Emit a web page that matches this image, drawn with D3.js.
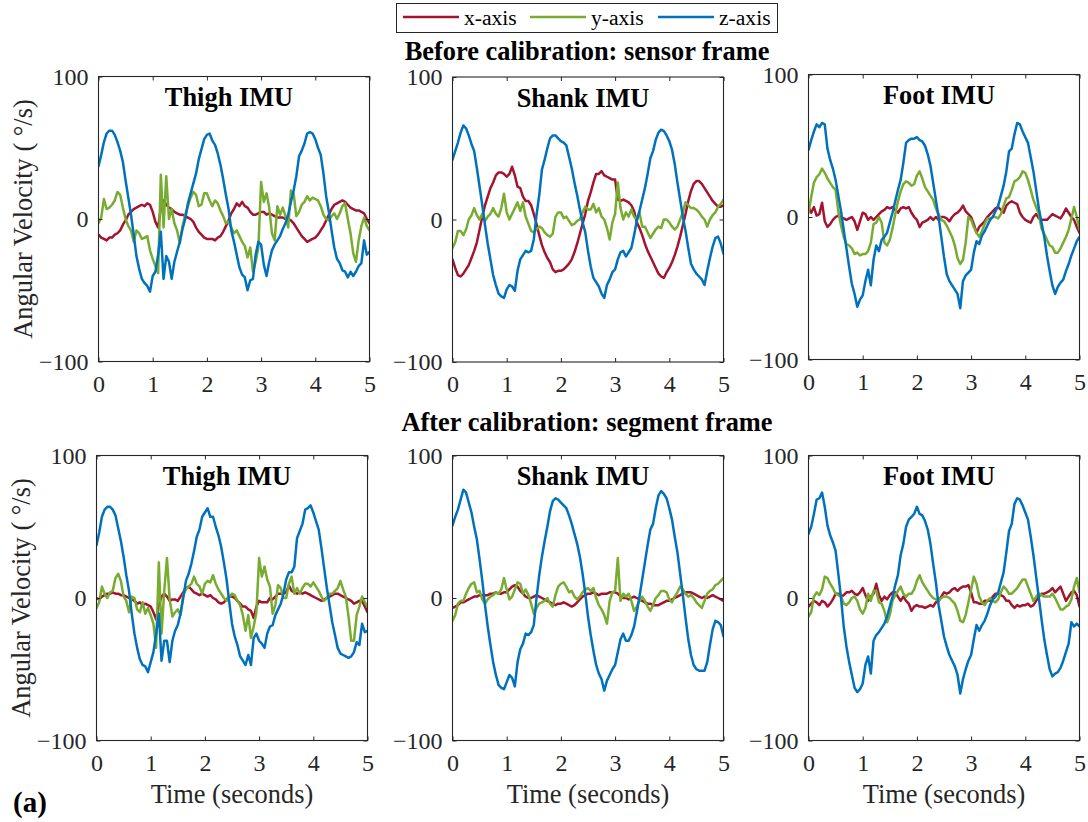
<!DOCTYPE html>
<html><head><meta charset="utf-8">
<script src="https://cdn.jsdelivr.net/npm/d3@7"></script>
<style>
body{margin:0;background:#fff}
svg{display:block}
text{font-family:"Liberation Serif","Times New Roman",serif}
</style>
</head><body><svg id="c" width="1088" height="822"></svg>
<script>
// ---------------- data ----------------
const sampleStep = 0.05; // seconds between samples
const xTicks = [0,1,2,3,4,5];
const yTicks = [-100,0,100];
const seriesNames = ["x-axis","y-axis","z-axis"];
const seriesColors = ["#A2142F","#77AC30","#0072BD"];
const panelTitles = ["Thigh IMU","Shank IMU","Foot IMU"];
const rowTitles = ["Before calibration: sensor frame","After calibration: segment frame"];
const yLabel = "Angular Velocity ( \u00B0/s)";
const xLabel = "Time (seconds)";
const figTag = "(a)";

const thighBeforeX = [-11,-13,-14,-15,-13,-13,-11,-10,-8,-4, -1,3,5,7,8,9,10,9,11,10, 5,-2,-6,8,13,10,8,7,5,4, 3,3,2,1,0,-2,-6,-9,-11,-13, -14,-14,-14,-15,-13,-12,-9,-5,-1,4, 7,11,9,12,9,8,5,3,3,4, 5,5,3,4,3,2,1,1,1,0, 0,-1,-3,-6,-9,-12,-14,-16,-15,-14, -13,-11,-8,-5,-1,3,7,10,11,12, 13,12,10,8,7,6,6,5,4,0, -3];
const thighBeforeY = [-3,1,14,7,8,10,13,19,17,8, 0,-5,-8,-16,-8,-10,-14,-13,-12,-22, -28,-33,-38,31,-6,30,0,7,-3,-8, -17,-5,3,9,15,19,17,9,10,18, 18,13,9,13,11,6,2,-3,-2,-6, -10,-8,-12,-16,-19,-27,-20,-37,-30,-20, 26,12,18,8,-10,-15,9,3,8,2, -6,20,18,2,5,10,12,16,13,15, 14,13,9,3,0,-1,2,4,0,4, 9,11,0,-10,-24,-30,-15,-5,1,-5, -8];
const thighBeforeZ = [37,45,54,60,62,62,59,54,48,40, 27,15,3,-11,-26,-35,-42,-45,-47,-51, -40,-37,-25,-9,-42,-26,-30,-42,-30,-23, -16,-7,0,11,18,25,32,42,49,56, 59,60,55,52,46,38,28,17,7,-8, -16,-25,-34,-39,-41,-50,-43,-42,-25,-16, -18,-32,-40,-30,-22,-18,-15,-12,-7,-3, 3,12,20,30,44,48,53,60,61,60, 56,50,45,32,16,5,-8,-20,-28,-31, -36,-37,-41,-37,-40,-37,-33,-31,-15,-25, -23];

const shankBeforeX = [-28,-34,-39,-40,-38,-35,-32,-27,-22,-16, -7,2,10,16,22,26,31,33,33,32, 30,32,37,31,23,22,16,13,13,10, 4,-3,-11,-18,-23,-27,-30,-35,-37,-36, -36,-35,-33,-31,-28,-23,-17,-10,-3,4, 13,19,26,32,32,34,31,30,29,28, 28,14,13,14,13,12,10,6,-2,-6, -11,-17,-22,-26,-30,-34,-38,-40,-41,-37, -34,-30,-25,-19,-12,-4,4,13,20,25, 27,27,25,22,19,16,13,11,9,9, 10];
const shankBeforeY = [-20,-16,-8,-8,-11,-7,0,3,8,3, 0,4,-1,2,4,8,4,2,8,18, 5,0,4,8,12,6,12,2,-3,-8, -9,-7,-5,-6,-9,-11,-12,-10,2,5, 5,1,2,-1,-4,-3,-1,0,5,9, 7,7,11,5,8,2,0,-6,-14,-2, 4,26,8,0,5,2,7,2,0,5, -5,-5,-9,-13,-10,-7,-5,-6,0,0, -2,-5,-7,-5,0,5,12,10,8,8, 7,5,2,0,-5,0,3,5,9,11, 14];
const shankBeforeZ = [42,48,54,61,66,64,59,53,48,36, 23,10,-4,-17,-28,-39,-46,-52,-54,-55, -49,-46,-47,-50,-36,-28,-25,-22,-23,-22, -14,3,17,35,42,50,57,59,59,57, 55,54,52,44,36,26,17,7,-2,-9, -22,-33,-41,-44,-47,-52,-55,-46,-42,-37, -35,-28,-23,-22,-26,-23,-20,-11,-1,6, 14,22,32,43,48,56,61,63,62,59, 55,49,39,26,14,2,-8,-20,-31,-35, -38,-40,-42,-46,-36,-27,-19,-13,-12,-17, -24];

const footBeforeX = [7,3,7,1,2,10,-3,-7,-5,-2, 0,1,0,-1,-2,-1,0,-3,-9,-3, 3,2,-2,0,-2,0,2,4,5,7, 6,7,5,3,6,7,6,7,3,0, -2,-7,-4,-3,-2,0,-2,0,-2,0, 0,-1,-3,0,2,3,5,8,4,2, 0,-5,-11,-7,-5,-3,0,2,4,6, 7,5,3,8,10,11,10,9,3,0, -2,-3,-4,0,2,-1,-2,-2,-2,0, 2,1,0,-1,2,6,3,0,-2,-7, -11];
const footBeforeY = [3,14,24,28,30,34,31,27,24,21, 19,4,-6,-14,-19,-20,-22,-26,-25,-27, -26,-26,-24,-18,-5,-4,0,-4,-18,-20, -16,-8,2,11,18,23,25,24,22,23, 29,32,27,21,18,15,12,6,2,-2, -3,-6,-10,-14,-20,-29,-33,-30,-18,0, -2,-7,-11,-14,-10,-5,-1,-1,0,0, -1,2,8,13,14,19,25,26,28,32, 31,26,19,12,7,2,-8,-12,-16,-20, -21,-25,-25,-22,-18,-14,-9,-1,7,0, -9];
const footBeforeZ = [47,54,60,65,63,66,65,48,40,34, 26,15,4,-9,-22,-35,-47,-54,-63,-58, -55,-45,-37,-48,-30,-20,-24,-16,-14,-11, -4,3,11,19,26,38,52,54,55,55, 56,54,53,50,44,36,24,12,0,-14, -28,-40,-45,-48,-51,-54,-64,-45,-41,-39, -37,-25,-17,-19,-13,-10,-6,-2,0,4, 8,15,22,32,46,48,58,66,65,60, 56,52,42,32,19,6,-4,-14,-27,-38, -48,-54,-49,-46,-44,-38,-33,-27,-22,-17, -14];

const thighAfterX = [0,-1,1,2,3,3,4,3,3,2, 2,1,0,-1,-2,-4,-3,-5,-4,-5, -6,-10,-15,-5,1,3,1,-2,-1,-1, -2,1,4,7,8,6,4,3,2,3, 2,1,2,0,-1,-3,-4,-3,-1,1, 1,0,-2,-4,-6,-6,-8,-9,-14,-6, -2,-3,-3,-3,0,-1,1,3,3,3, 4,9,5,4,3,4,3,4,3,2, 1,0,-1,-2,-1,0,1,2,3,3, 2,1,0,-1,-2,-4,-3,-2,-2,-6, -10];
const thighAfterY = [-7,-3,8,3,0,4,5,14,17,12, 1,-2,-10,1,0,-8,-10,-3,-11,-7, -12,-18,-35,25,-25,5,28,-1,-13,-10, -8,-12,2,6,8,10,15,10,8,3, 10,12,11,16,10,6,3,0,-2,1, 3,2,-2,-5,-12,-23,-12,-28,-20,-10, 28,15,22,13,8,-11,-5,9,7,0, 0,10,15,3,7,3,7,10,10,8, 11,8,5,1,-2,0,3,3,5,7, 12,6,1,-13,-30,-30,-12,-6,1,-3, -6];
const thighAfterZ = [37,46,57,62,64,64,62,58,49,40, 29,16,5,-11,-25,-35,-43,-47,-48,-52, -45,-38,-25,-11,-44,-30,-30,-45,-30,-23, -19,-11,0,12,17,24,33,43,48,57, 60,63,57,57,50,44,36,25,13,-3, -18,-27,-33,-41,-44,-47,-40,-47,-28,-25, -30,-32,-35,-25,-20,-19,-12,-8,-4,3, 13,18,18,22,42,47,52,62,63,65, 60,54,48,35,21,7,-5,-17,-26,-35, -39,-40,-41,-42,-41,-38,-31,-33,-18,-24, -23];

const shankAfterX = [-7,-6,-5,-3,-3,-2,-1,0,1,1, 2,2,2,2,3,3,4,3,3,4, 4,6,8,9,8,5,3,1,0,0, 1,2,1,0,-1,-2,-3,-4,-5,-4, -4,-3,-4,-5,-6,-5,-3,-1,1,2, 3,3,4,3,2,3,3,3,4,4, 4,3,1,0,0,-1,0,1,0,-1, -2,-3,-4,-4,-5,-5,-5,-4,-3,-2, -2,-1,0,1,2,3,4,4,4,3, 2,1,0,1,0,1,2,1,0,-1, -2];
const shankAfterY = [-16,-12,-4,-2,-2,3,7,10,11,4, 5,-1,-4,-1,1,2,4,3,6,14, 6,-1,1,6,11,10,3,6,2,-4, -11,-7,-4,-3,-2,0,-4,-6,2,8, 10,11,8,4,5,1,-1,1,4,6, 7,5,7,0,-5,-8,-12,-18,-2,4, 5,28,-2,3,1,3,-2,-9,-6,-2, 1,-2,-6,-9,-5,0,2,5,5,4, -1,-3,1,4,8,6,3,1,2,0, -3,-5,-7,-2,3,5,6,9,10,12, 14];
const shankAfterZ = [51,57,62,69,76,74,67,60,50,41, 27,12,-5,-20,-33,-45,-54,-61,-63,-64, -59,-54,-56,-62,-45,-36,-32,-25,-26,-24, -19,0,16,29,40,50,61,68,70,69, 67,65,63,58,52,45,38,29,17,3, -13,-26,-37,-47,-53,-57,-65,-58,-54,-50, -47,-38,-29,-25,-30,-30,-26,-20,-10,1, 13,25,37,48,52,63,72,75,73,70, 63,55,43,32,17,2,-14,-29,-40,-47, -50,-51,-51,-51,-45,-33,-22,-16,-17,-19, -27];

const footAfterX = [-6,-4,-2,-3,-5,-2,-3,-6,-4,-1, 3,3,1,2,4,4,5,3,2,4, 7,2,-2,1,3,10,2,-2,1,-1, 2,4,4,1,-2,1,-2,-4,-9,-6, -5,-6,-6,-7,-6,-5,-6,-3,-2,1, 4,3,4,6,7,5,7,8,8,9, 4,-3,-3,-4,-4,-2,-2,-2,1,3, 3,2,1,-2,-2,-5,-7,-5,-6,-5, -5,-4,-6,-5,-2,1,3,3,4,5, 7,4,6,8,3,-2,1,4,5,2, -6];
const footAfterY = [-13,-10,1,4,2,6,15,14,10,7, 3,2,1,-4,-5,-3,0,1,-2,-8, -11,-7,3,-2,5,5,-3,-4,-9,-17, -12,-2,2,5,8,3,1,3,3,6, 12,16,11,8,5,2,0,-1,-2,0, 1,1,0,-2,-4,-9,-16,-17,-12,-3, 6,15,10,1,-3,-5,-2,0,-2,-3, -1,4,8,6,3,3,5,7,10,13, 13,8,3,-2,1,3,2,1,1,1, 3,0,-4,-8,-8,-6,-5,-1,8,14, 4];
const footAfterZ = [45,50,59,69,70,74,64,51,44,39, 33,17,0,-20,-34,-45,-54,-63,-66,-64, -60,-47,-41,-53,-30,-26,-24,-21,-18,-13, -6,1,9,16,30,38,50,55,57,59, 64,59,58,54,48,38,24,11,-5,-16, -27,-34,-40,-44,-48,-54,-67,-57,-50,-44, -40,-29,-19,-23,-19,-16,-11,-5,-1,1, 4,11,18,32,47,52,66,70,69,65, 60,55,43,30,15,0,-15,-29,-40,-50, -55,-53,-52,-49,-44,-38,-32,-17,-20,-18, -20];

const panelData = [
  [[thighBeforeX,thighBeforeY,thighBeforeZ],[shankBeforeX,shankBeforeY,shankBeforeZ],[footBeforeX,footBeforeY,footBeforeZ]],
  [[thighAfterX,thighAfterY,thighAfterZ],[shankAfterX,shankAfterY,shankAfterZ],[footAfterX,footAfterY,footAfterZ]]
];

// ---------------- layout ----------------
const W = 1088, H = 822;
const FONT = '"Liberation Serif","Times New Roman",serif';
const panelLeft = [[98.5,452.5,808.5],[96.5,452.5,808.5]];
const panelTop = [[76.5,77,74.5],[455.5,455.5,455.5]];
const panelW = 271, panelH = 285;
const axisColor = "#262626";
const tickFont = 24, labelFont = 26.4;
const lineW = 2.5;

const svg = d3.select("#c").attr("font-family",FONT);
svg.append("rect").attr("width",W).attr("height",H).attr("fill","#fff");

// legend
const lg = svg.append("g");
lg.append("rect").attr("x",396.5).attr("y",3.5).attr("width",381).attr("height",29)
  .attr("fill","#fff").attr("stroke",axisColor).attr("stroke-width",1);
const legendX = [403, 530, 658];
seriesNames.forEach((n,i)=>{
  lg.append("line").attr("x1",legendX[i]).attr("x2",legendX[i]+56).attr("y1",17).attr("y2",17)
    .attr("stroke",seriesColors[i]).attr("stroke-width",lineW);
  lg.append("text").attr("x",legendX[i]+61).attr("y",25).attr("font-size",21.6)
    .attr("font-family",FONT).attr("fill","#000").text(n);
});

// row titles
const rowTitleY = [59.5, 431];
rowTitles.forEach((t,r)=>{
  svg.append("text").attr("x",587).attr("y",rowTitleY[r]).attr("text-anchor","middle")
    .attr("font-family",FONT).attr("font-size",labelFont).attr("font-weight","bold").attr("fill","#000").text(t);
});

const x = d3.scaleLinear().domain([0,5]);
const y = d3.scaleLinear().domain([-100,100]);

for (let r=0;r<2;r++){
  for (let c=0;c<3;c++){
    const L = panelLeft[r][c], T = panelTop[r][c];
    const xs = x.copy().range([0,panelW]);
    const ys = y.copy().range([panelH,0]);
    const g = svg.append("g").attr("transform",`translate(${L},${T})`);
    const clipId = `clip${r}${c}`;
    g.append("clipPath").attr("id",clipId).append("rect")
      .attr("x",0).attr("y",0).attr("width",panelW).attr("height",panelH);

    const line = d3.line().x((d,i)=>xs(i*sampleStep)).y(d=>ys(d));
    const lines = g.append("g").attr("clip-path",`url(#${clipId})`);
    panelData[r][c].forEach((arr,k)=>{
      lines.append("path").datum(arr).attr("d",line).attr("fill","none")
        .attr("stroke",seriesColors[k]).attr("stroke-width",lineW)
        .attr("stroke-linejoin","round").attr("stroke-linecap","round");
    });

    const ax = d3.axisBottom(xs).tickValues(xTicks).tickSize(-4).tickPadding(13).tickFormat(d3.format("d"));
    const gx = g.append("g").attr("transform",`translate(0,${panelH})`).call(ax);
    const axT = d3.axisTop(xs).tickValues(xTicks).tickSize(-4).tickFormat("");
    const gxt = g.append("g").call(axT);
    const ay = d3.axisLeft(ys).tickValues(yTicks).tickSize(-4).tickPadding(10).tickFormat(d3.format("d"));
    const gy = g.append("g").call(ay);
    const ayR = d3.axisRight(ys).tickValues(yTicks).tickSize(-4).tickFormat("");
    const gyr = g.append("g").attr("transform",`translate(${panelW},0)`).call(ayR);
    [gx,gxt,gy,gyr].forEach(a=>{
      a.attr("font-family",FONT).attr("font-size",tickFont);
      a.select(".domain").remove();
      a.selectAll("line").attr("stroke",axisColor).attr("stroke-width",1);
      a.selectAll("text").attr("font-size",tickFont).attr("fill",axisColor).attr("font-family",FONT);
    });
    g.append("rect").attr("x",0).attr("y",0).attr("width",panelW).attr("height",panelH)
      .attr("fill","none").attr("stroke",axisColor).attr("stroke-width",1.1);

    g.append("text").attr("x",panelW/2-5).attr("y",29.5).attr("text-anchor","middle")
      .attr("font-family",FONT).attr("font-size",labelFont).attr("font-weight","bold").attr("fill","#000").text(panelTitles[c]);

    if (c===0){
      svg.append("text").attr("transform",`translate(${L-75},${T+panelH/2}) rotate(-90)`)
        .attr("text-anchor","middle").attr("dy","0.32em").attr("font-size",labelFont)
        .attr("font-family",FONT).attr("fill",axisColor).text(yLabel);
    }
    if (r===1){
      svg.append("text").attr("x",L+panelW/2).attr("y",803).attr("text-anchor","middle")
        .attr("font-family",FONT).attr("font-size",labelFont).attr("fill",axisColor).text(xLabel);
    }
  }
}
svg.append("text").attr("x",13).attr("y",812).attr("font-family",FONT).attr("font-size",29).attr("font-weight","bold")
  .attr("fill","#000").text(figTag);
</script>
</body></html>
